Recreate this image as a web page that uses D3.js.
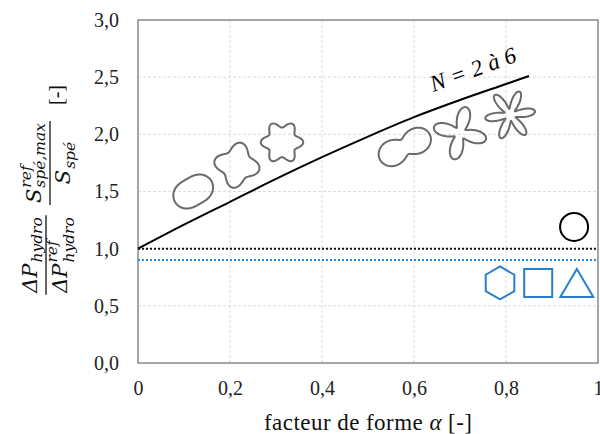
<!DOCTYPE html>
<html><head><meta charset="utf-8">
<script src="https://cdn.jsdelivr.net/npm/d3@7"></script>
<style>
html,body{margin:0;padding:0;background:#fff;}
svg{display:block;}
svg text{font-family:"Liberation Serif","DejaVu Serif",serif;}
</style></head>
<body>
<svg id="chart" width="600" height="434"></svg>
<script>
// ---------- data ----------
const xTicks = [0, 0.2, 0.4, 0.6, 0.8, 1];
const yTicks = [0, 0.5, 1.0, 1.5, 2.0, 2.5, 3.0];
const curveAlpha = [0, 0.1, 0.2, 0.3, 0.4, 0.5, 0.6, 0.7, 0.8, 0.85];
const curveRatio = [1.0, 1.21, 1.41, 1.61, 1.80, 1.98, 2.15, 2.30, 2.44, 2.51];
const refLevel = 1.0;     // black dotted
const blueLevel = 0.9;    // blue dotted
// decorative cross-section shapes r = R(1 + a cos(N θ))
const shapeN      = [2, 4, 6, 2, 4, 6];
const shapeAmp    = [0.2, 0.2, 0.18, 0.55, 0.62, 0.62];
const shapeAlpha  = [0.12, 0.215, 0.313, 0.58, 0.70, 0.809];
const shapeRatio  = [1.50, 1.73, 1.93, 1.89, 2.01, 2.17];
const shapeRot    = [-30, 10, 0, -27, 13, -8];
// blue markers
const markerType  = ["hexagon", "square", "triangle"];
const markerAlpha = [0.787, 0.870, 0.954];
const markerRatio = [0.70, 0.70, 0.70];
const circleAlpha = 0.948, circleRatio = 1.19;
const curveLabel = "N = 2 à 6";
const labelAlpha = 0.642, labelRatio = 2.37;

// ---------- layout / style ----------
const M = {left: 138, right: 598, top: 20, bottom: 363};
const shapeR = [17.5, 19, 18, 18, 16.5, 15.5];
const serif = '"Liberation Serif","DejaVu Serif",serif';
const math = '"DejaVu Serif","Liberation Serif",serif';
const blue = "#2a7fcd";
const gray = "#6a6a6a";

const svg = d3.select("#chart");
const x = d3.scaleLinear().domain([0, 1]).range([M.left, M.right]);
const y = d3.scaleLinear().domain([0, 3]).range([M.bottom, M.top]);
const fmt = v => d3.format(".1f")(v).replace(".", ",");

// gridlines
svg.append("g").selectAll("line").data(xTicks.filter(d => d > 0 && d < 1)).join("line")
  .attr("x1", d => x(d)).attr("x2", d => x(d)).attr("y1", y(0)).attr("y2", y(3))
  .attr("stroke", "#dcdcdc").attr("stroke-width", 1).attr("stroke-dasharray", "3,2");
svg.append("g").selectAll("line").data(yTicks.filter(d => d > 0 && d < 3)).join("line")
  .attr("x1", x(0)).attr("x2", x(1)).attr("y1", d => y(d)).attr("y2", d => y(d))
  .attr("stroke", "#dcdcdc").attr("stroke-width", 1).attr("stroke-dasharray", "3,2");

// border
svg.append("rect").attr("x", x(0)).attr("y", y(3)).attr("width", x(1) - x(0)).attr("height", y(0) - y(3))
  .attr("fill", "none").attr("stroke", "#8a8a8a").attr("stroke-width", 1.5);

// axes
const ya = svg.append("g").attr("transform", `translate(${x(0)},0)`)
  .call(d3.axisLeft(y).tickValues(yTicks).tickSize(0).tickPadding(19).tickFormat(fmt));
ya.select(".domain").remove();
ya.attr("font-family", null);
ya.selectAll("text").style("font-family", serif).attr("font-size", 20).attr("fill", "#222");

const xa = svg.append("g").attr("transform", `translate(0,${y(0)})`)
  .call(d3.axisBottom(x).tickValues(xTicks).tickSize(0).tickPadding(18)
    .tickFormat(d => (d === 0 || d === 1) ? String(d) : fmt(d).replace(/0$/, "")));
xa.select(".domain").remove();
xa.attr("font-family", null);
xa.selectAll("text").style("font-family", serif).attr("font-size", 20).attr("fill", "#222");

// reference lines
svg.append("line").attr("x1", x(0)).attr("x2", x(1)).attr("y1", y(refLevel)).attr("y2", y(refLevel))
  .attr("stroke", "#111").attr("stroke-width", 2).attr("stroke-dasharray", "2,2");
svg.append("line").attr("x1", x(0)).attr("x2", x(1)).attr("y1", y(blueLevel)).attr("y2", y(blueLevel))
  .attr("stroke", "#2b8ad6").attr("stroke-width", 2).attr("stroke-dasharray", "2,2");

// main curve
const pts = curveAlpha.map((a, i) => [a, curveRatio[i]]);
svg.append("path").datum(pts)
  .attr("d", d3.line().x(d => x(d[0])).y(d => y(d[1])).curve(d3.curveMonotoneX))
  .attr("fill", "none").attr("stroke", "#000").attr("stroke-width", 2);

// label on curve
svg.append("text").attr("transform", `translate(${x(labelAlpha)},${y(labelRatio)}) rotate(-20)`)
  .style("font-family", serif).attr("font-style", "italic").attr("font-size", 23).attr("fill", "#000")
  .attr("textLength", 90).attr("lengthAdjust", "spacing")
  .text(curveLabel);

// decorative shapes
const thetas = d3.range(0, 360, 2).map(d => d * Math.PI / 180);
shapeN.forEach((n, i) => {
  const rad = d3.lineRadial().angle(t => t).radius(t => shapeR[i] * (1 + shapeAmp[i] * Math.cos(n * t)))
    .curve(d3.curveCatmullRomClosed);
  svg.append("path").attr("d", rad(thetas))
    .attr("transform", `translate(${x(shapeAlpha[i])},${y(shapeRatio[i])}) rotate(${90 + shapeRot[i]})`)
    .attr("fill", "none").attr("stroke", gray).attr("stroke-width", 2);
});

// circle
svg.append("circle").attr("cx", x(circleAlpha)).attr("cy", y(circleRatio)).attr("r", 14)
  .attr("fill", "none").attr("stroke", "#000").attr("stroke-width", 2);

// blue markers
const symPath = {
  hexagon: () => d3.range(6).map(k => { const a = -Math.PI / 2 + k * Math.PI / 3; return [16.5 * Math.cos(a), 16.5 * Math.sin(a)]; }),
  square: () => [[-14, -14], [14, -14], [14, 14], [-14, 14]],
  triangle: () => [[0, -14], [16.5, 14], [-16.5, 14]]
};
markerType.forEach((t, i) => {
  const p = symPath[t]();
  svg.append("path").attr("d", "M" + p.map(q => q.join(",")).join("L") + "Z")
    .attr("transform", `translate(${x(markerAlpha[i])},${y(markerRatio[i])})`)
    .attr("fill", "none").attr("stroke", blue).attr("stroke-width", 2).attr("stroke-linejoin", "miter");
});

// x axis title
const xt = svg.append("text").attr("x", 368).attr("y", 430).attr("text-anchor", "middle")
  .style("font-family", serif).attr("font-size", 23).attr("fill", "#111")
  .attr("textLength", 208).attr("lengthAdjust", "spacing");
xt.append("tspan").text("facteur de forme ");
xt.append("tspan").attr("font-style", "italic").text("α");
xt.append("tspan").text(" [-]");

// y axis title (rotated math fractions)
const g = svg.append("g").attr("transform", "rotate(-90)");
const mainFS = 21, subFS = 15.5;
function piece(parent, p, xStart, base) {
  const t = parent.append("text").attr("x", xStart).attr("y", base)
    .style("font-family", math).attr("font-style", "italic").attr("font-size", mainFS).attr("fill", "#111").text(p.main);
  const wm = t.node().getComputedTextLength();
  let ws = 0, wb = 0;
  if (p.sup) {
    const s = parent.append("text").attr("x", xStart + wm + 1).attr("y", base - 10)
      .style("font-family", math).attr("font-style", "italic").attr("font-size", subFS).attr("fill", "#111").text(p.sup);
    ws = s.node().getComputedTextLength();
  }
  if (p.sub) {
    const s = parent.append("text").attr("x", xStart + wm + 1).attr("y", base + (p.subShift || 5))
      .style("font-family", math).attr("font-style", "italic").attr("font-size", subFS).attr("fill", "#111").text(p.sub);
    wb = s.node().getComputedTextLength();
  }
  return wm + 1 + Math.max(ws, wb);
}
function place(p, centerLx, base) {
  const tmp = g.append("g");
  const w = piece(tmp, p, 0, base);
  tmp.attr("transform", `translate(${centerLx - w / 2},0)`);
  return w;
}
function frac(num, den, centerScreenY, barX, numBase, denBase) {
  const c = -centerScreenY;
  const w1 = place(num, c, barX - numBase);
  const w2 = place(den, c, barX + denBase);
  const w = Math.max(w1, w2) + 4;
  g.append("line").attr("x1", c - w / 2).attr("x2", c + w / 2).attr("y1", barX).attr("y2", barX)
    .attr("stroke", "#111").attr("stroke-width", 1.3);
}
frac({main: "ΔP", sub: "hydro", subShift: 5}, {main: "ΔP", sup: "ref", sub: "hydro", subShift: 7}, 255, 46, 9, 21);
frac({main: "S", sup: "ref", sub: "spé,max", subShift: 4}, {main: "S", sub: "spé", subShift: 5}, 163, 50, 9, 20);
g.append("text").attr("x", -95).attr("y", 63).attr("text-anchor", "middle")
  .style("font-family", serif).attr("font-size", 20).attr("fill", "#111").text("[-]");
</script>
</body></html>
